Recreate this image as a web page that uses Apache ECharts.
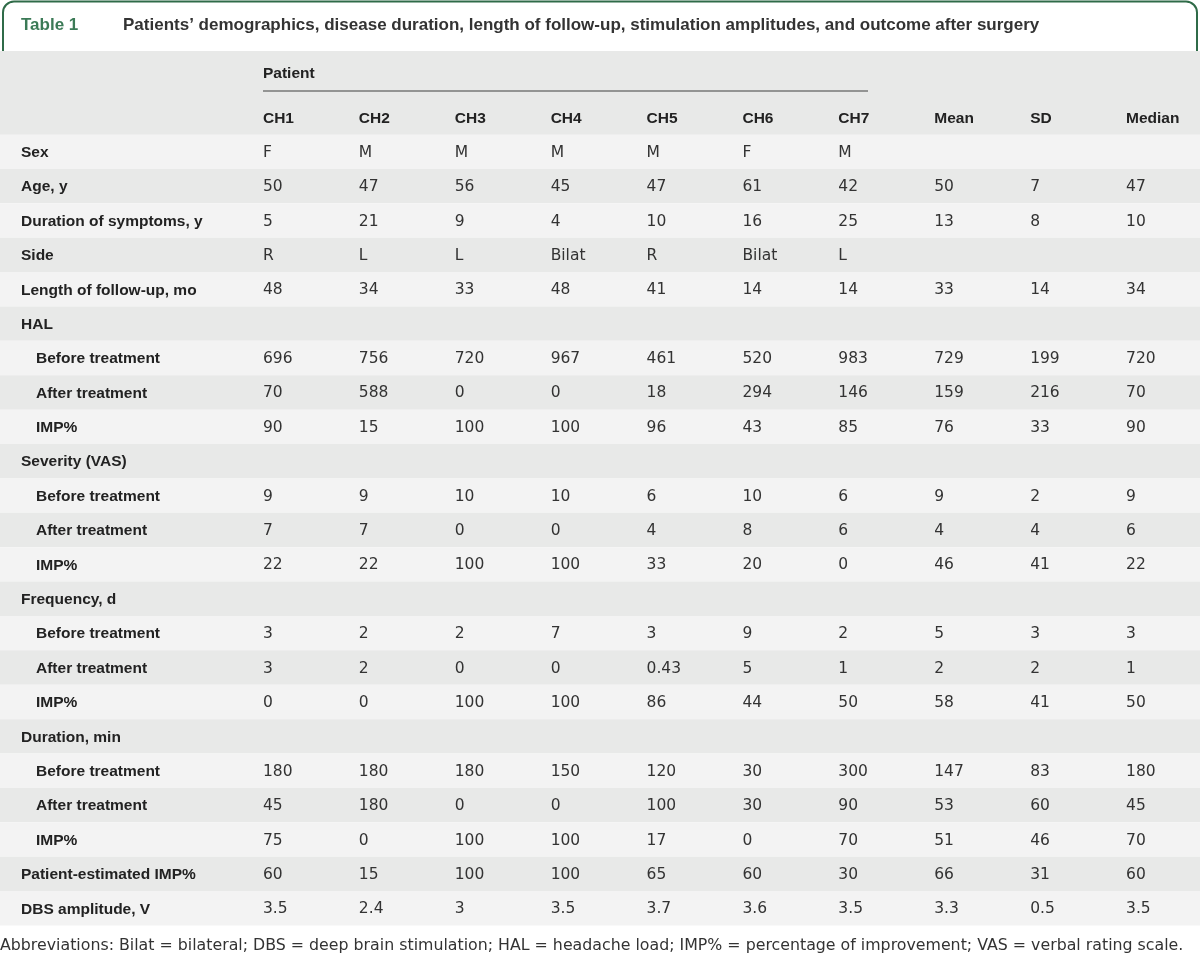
<!DOCTYPE html>
<html><head><meta charset="utf-8">
<script src="https://cdn.jsdelivr.net/npm/echarts@6/dist/echarts.min.js"></script>
<style>html,body{margin:0;padding:0;background:#fff}#c{width:1200px;height:959px}</style>
</head><body><div id="c"></div>
<script>
const columns = ['CH1','CH2','CH3','CH4','CH5','CH6','CH7','Mean','SD','Median'];
const rowLabels = ['Sex','Age, y','Duration of symptoms, y','Side','Length of follow-up, mo',
  'HAL','Before treatment','After treatment','IMP%',
  'Severity (VAS)','Before treatment','After treatment','IMP%',
  'Frequency, d','Before treatment','After treatment','IMP%',
  'Duration, min','Before treatment','After treatment','IMP%',
  'Patient-estimated IMP%','DBS amplitude, V'];
const indented = [0,0,0,0,0, 0,1,1,1, 0,1,1,1, 0,1,1,1, 0,1,1,1, 0,0];

const sex        = ['F','M','M','M','M','F','M','','',''];
const age        = ['50','47','56','45','47','61','42','50','7','47'];
const symptoms   = ['5','21','9','4','10','16','25','13','8','10'];
const side       = ['R','L','L','Bilat','R','Bilat','L','','',''];
const followUp   = ['48','34','33','48','41','14','14','33','14','34'];
const halBefore  = ['696','756','720','967','461','520','983','729','199','720'];
const halAfter   = ['70','588','0','0','18','294','146','159','216','70'];
const halImp     = ['90','15','100','100','96','43','85','76','33','90'];
const sevBefore  = ['9','9','10','10','6','10','6','9','2','9'];
const sevAfter   = ['7','7','0','0','4','8','6','4','4','6'];
const sevImp     = ['22','22','100','100','33','20','0','46','41','22'];
const freqBefore = ['3','2','2','7','3','9','2','5','3','3'];
const freqAfter  = ['3','2','0','0','0.43','5','1','2','2','1'];
const freqImp    = ['0','0','100','100','86','44','50','58','41','50'];
const durBefore  = ['180','180','180','150','120','30','300','147','83','180'];
const durAfter   = ['45','180','0','0','100','30','90','53','60','45'];
const durImp     = ['75','0','100','100','17','0','70','51','46','70'];
const patientImp = ['60','15','100','100','65','60','30','66','31','60'];
const dbsAmp     = ['3.5','2.4','3','3.5','3.7','3.6','3.5','3.3','0.5','3.5'];

const rowValues = [sex, age, symptoms, side, followUp,
  null, halBefore, halAfter, halImp,
  null, sevBefore, sevAfter, sevImp,
  null, freqBefore, freqAfter, freqImp,
  null, durBefore, durAfter, durImp,
  patientImp, dbsAmp];

const cellData = [], cellText = [];
rowValues.forEach((vals, r) => {
  if (!vals) return;
  vals.forEach((v, c) => { if (v !== '') { cellData.push([c, r]); cellText.push(v); } });
});
const bandData = rowLabels.map((_, r) => [0, r]);

const chart = echarts.init(document.getElementById('c'), null, {renderer: 'canvas'});
const GREEN = '#2f6b48';
const LBL = {color: '#222', fontSize: 15.5, fontWeight: 'bold', fontFamily: 'Liberation Sans'};
chart.setOption({
  animation: false,
  backgroundColor: '#ffffff',
  grid: {left: 215, right: 26, top: 134.5, bottom: 33.5},
  xAxis: {
    type: 'category', data: columns, position: 'top', z: 10,
    axisLine: {show: false}, axisTick: {show: false}, splitLine: {show: false},
    axisLabel: Object.assign({interval: 0, align: 'left', margin: 8}, LBL)
  },
  yAxis: {
    type: 'category', data: rowLabels, inverse: true, z: 10,
    axisLine: {show: false}, axisTick: {show: false}, splitLine: {show: false},
    axisLabel: Object.assign({
      interval: 0, align: 'left', margin: 194, padding: [2, 0, 0, 0],
      formatter: (v, i) => indented[i] ? '{ind|' + v + '}' : v,
      rich: {ind: Object.assign({padding: [0, 0, 0, 15]}, LBL)}
    }, LBL)
  },
  graphic: [
    {type: 'rect', z: 0, shape: {x: 3, y: 1.5, width: 1194, height: 80, r: [11, 11, 0, 0]},
      style: {fill: 'none', stroke: GREEN, lineWidth: 2}},
    {type: 'rect', z: 1, shape: {x: 0, y: 51, width: 1200, height: 84}, style: {fill: '#e8e9e8'}},
    {type: 'text', z: 2, x: 21, y: 25.5, style: {text: 'Table 1',
      font: 'bold 17px "Liberation Sans"', fill: '#3b7a56', verticalAlign: 'middle'}},
    {type: 'text', z: 2, x: 123, y: 25.5, style: {
      text: 'Patients\u2019 demographics, disease duration, length of follow-up, stimulation amplitudes, and outcome after surgery',
      font: 'bold 17px "Liberation Sans"', fill: '#333', verticalAlign: 'middle'}},
    {type: 'text', z: 2, x: 263, y: 73.5, style: {text: 'Patient', font: 'bold 15.5px "Liberation Sans"', fill: '#222', verticalAlign: 'middle'}},
    {type: 'line', z: 2, shape: {x1: 263, y1: 91, x2: 868, y2: 91}, style: {stroke: '#777', lineWidth: 1.5}},
    {type: 'text', z: 2, x: 0, y: 946, style: {
      text: 'Abbreviations: Bilat = bilateral; DBS = deep brain stimulation; HAL = headache load; IMP% = percentage of improvement; VAS = verbal rating scale.',
      font: '15.8px "DejaVu Sans"', fill: '#333', verticalAlign: 'middle'}}
  ],
  series: [
    {
      type: 'custom', z: 1, clip: false, silent: true, data: bandData,
      renderItem: (params, api) => {
        const c = api.coord([0, api.value(1)]);
        const h = api.size([0, 1])[1];
        return {type: 'rect', shape: {x: 0, y: c[1] - h / 2, width: api.getWidth(), height: h},
          style: {fill: api.value(1) % 2 === 0 ? '#f3f3f3' : '#e8e9e8'}};
      }
    },
    {
      type: 'custom', z: 5, clip: false, silent: true, data: cellData,
      renderItem: (params, api) => {
        const c = api.coord([api.value(0), api.value(1)]);
        return {type: 'text', style: {text: cellText[params.dataIndex], x: c[0], y: c[1] + 1,
          align: 'left', verticalAlign: 'middle', font: '15.5px "DejaVu Sans"', fill: '#333'}};
      }
    }
  ]
});
</script></body></html>
